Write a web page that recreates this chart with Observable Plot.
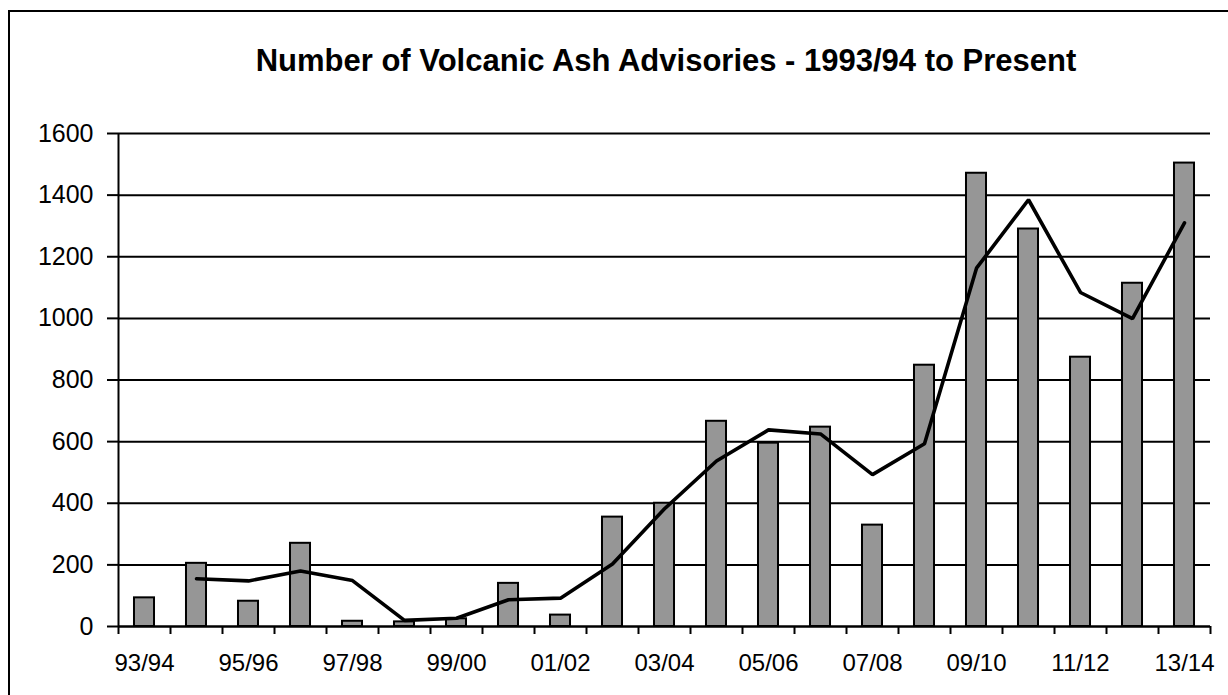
<!DOCTYPE html>
<html>
<head>
<meta charset="utf-8">
<script src="https://cdn.jsdelivr.net/npm/d3@7"></script>
<script src="https://cdn.jsdelivr.net/npm/@observablehq/plot@0.6"></script>
<style>
  html, body { margin: 0; padding: 0; background: #fff; overflow: hidden; }
  #wrap { position: relative; width: 1228px; height: 695px; font-family: "Liberation Sans", Arial, sans-serif; }
  #border { position: absolute; left: 8px; top: 10px; width: 1300px; height: 800px; border: 2px solid #000; box-sizing: border-box; }
  #title { position: absolute; left: 120px; width: 1092px; top: 43px; text-align: center; font-weight: bold; font-size: 31px; line-height: normal; color: #000; }
  #chart { position: absolute; left: 0; top: 0; }
</style>
</head>
<body>
<div id="wrap">
  <div id="border"></div>
  <div id="chart"></div>
  <div id="title">Number of Volcanic Ash Advisories - 1993/94 to Present</div>
</div>
<script>
const seasons = ["93/94","94/95","95/96","96/97","97/98","98/99","99/00","00/01","01/02","02/03","03/04","04/05","05/06","06/07","07/08","08/09","09/10","10/11","11/12","12/13","13/14"];
const advisories = [93, 205, 82, 270, 17, 15, 25, 140, 37, 355, 400, 666, 595, 647, 329, 848, 1471, 1290, 874, 1114, 1504];
const trend = [null, 155, 148, 180, 149, 20, 27, 87, 92, 203, 382, 537, 638, 625, 493, 593, 1163, 1385, 1084, 999, 1310];
const yTicks = [0, 200, 400, 600, 800, 1000, 1200, 1400, 1600];

const bars = seasons.map((s, i) => ({i, season: s, value: advisories[i]}));
const linePts = seasons.map((s, i) => ({i, value: trend[i]})).filter(d => d.value != null);
const boundaries = d3.range(seasons.length + 1).map(k => k - 0.5);
const labelIdx = d3.range(0, seasons.length, 2);
const half = 0.1925;

const chart = Plot.plot({
  width: 1228,
  height: 695,
  marginLeft: 118,
  marginRight: 18,
  marginTop: 133,
  marginBottom: 69,
  style: {fontFamily: "'Liberation Sans', Arial, sans-serif", color: "#000", background: "transparent", overflow: "visible"},
  x: {type: "linear", domain: [-0.5, seasons.length - 0.5]},
  y: {domain: [0, 1600]},
  marks: [
    Plot.gridY(yTicks, {stroke: "#000", strokeOpacity: 1, strokeWidth: 2}),
    Plot.axisY({ticks: yTicks, tickSize: 11, tickPadding: 14, fontSize: 25, tickFormat: d => String(d), stroke: "#000", strokeWidth: 2, label: null}),
    Plot.axisX({ticks: boundaries, tickSize: 8, tickFormat: () => "", stroke: "#000", strokeWidth: 2, label: null}),
    Plot.axisX({ticks: labelIdx, tickSize: 0, tickPadding: 27, fontSize: 24, tickFormat: i => seasons[i], label: null}),
    Plot.rectY(bars, {x1: d => d.i - half, x2: d => d.i + half, y: "value", fill: "#969696", stroke: "#000", strokeWidth: 2}),
    Plot.ruleX([-0.5], {stroke: "#000", strokeWidth: 2}),
    Plot.ruleY([0], {stroke: "#000", strokeWidth: 2}),
    Plot.line(linePts, {x: "i", y: "value", stroke: "#000", strokeWidth: 3.6, strokeLinejoin: "miter"})
  ]
});
document.getElementById("chart").appendChild(chart);
</script>
</body>
</html>
